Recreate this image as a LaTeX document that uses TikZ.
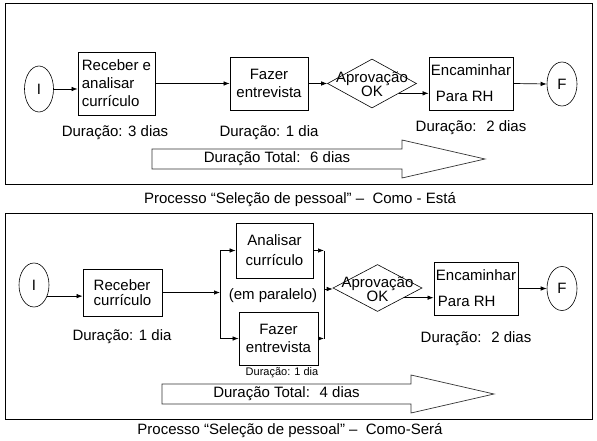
\documentclass[tikz,border=0pt]{standalone}
\usepackage{fontspec}
\setmainfont{Liberation Sans}
\usetikzlibrary{calc, arrows.meta, shapes.geometric}
\newcommand{\drawTotalArrow}[6]{
  \draw[bigarrow] (#2,{#5-10}) -- (#3,{#5-10}) -- (#3,{#5-19}) -- (#4,#5) -- (#3,{#5+19}) -- (#3,{#5+10}) -- (#2,{#5+10}) -- cycle;
  \node[durtxt] (#1) at ({(#2+#3)/2},#5) {#6};
}
\newcommand{\flatText}[1]{\raisebox{-6.5pt}[0pt][0pt]{\makebox[0pt]{\begin{tabular}[c]{@{}c@{}}#1\end{tabular}}}}

\begin{document}
\begin{tikzpicture}[x=1pt, y=-1pt, font=\fontsize{15}{18}\selectfont,
  box/.style={draw, rectangle, line width=0.8pt, inner sep=2pt, align=center},
  term/.style={draw, ellipse, line width=0.6pt, minimum width=30pt, minimum height=44pt, inner sep=0pt},
  decis/.style={draw, diamond, line width=0.6pt, inner sep=0pt, minimum width=89pt},
  flow/.style={-{Latex[length=6pt,width=4.5pt]}, line width=0.7pt},
  durtxt/.style={inner sep=0pt},
  bigarrow/.style={draw=black!80, line width=0.7pt}]
  \useasboundingbox (0,0) rectangle (597,441);

  % Como - Esta
  \draw[line width=0.8pt] (5,3) rectangle (592,184);
  \node[term, minimum width=29pt, minimum height=46pt] (I1) at (39,89) {I};
  \node[box, minimum width=77pt, minimum height=63pt, align=left] (rec1) at (116.5,83.5) {Receber e\\analisar\\currículo};
  \node[box, minimum width=78pt, minimum height=53pt] (ent1) at (269,83.5) {Fazer\\entrevista};
  \node[decis, minimum height=49pt] (apr1) at (372,83.5) {\flatText{Aprovação\\[-4pt]OK}};
  \node[box, minimum width=82pt, minimum height=53pt, align=left] (enc1) at (471,83.5) {Encaminhar\\[8pt]\hspace*{5pt}Para RH};
  \node[term] (F1) at (562,84) {F};

  \node[durtxt] (dur1) at (115,133) {Duração: 3 dias};
  \node[durtxt] (dur2) at (269,133) {Duração: 1 dia};
  \node[durtxt] (dur3) at (471,128) {Duração:~ 2 dias};

  \draw[flow] (I1.east) -- (I1.east -| rec1.west);
  \draw[flow] (rec1.east) -- (ent1.west);
  \draw[flow] (ent1.east) -- (apr1.west);
  \draw[flow] (apr1.-20) -- (apr1.-20 -| enc1.west);
  \draw[flow] (enc1.east) -- (F1.west);

  \drawTotalArrow{tot1}{152}{402}{485}{159}{Duração Total:~ 6 dias}
  \node[durtxt] (cap1) at (300,200) {Processo “Seleção de pessoal” –~ Como - Está};

  % Como - Sera
  \draw[line width=0.8pt] (5,213) rectangle (592,419);
  \node[term] (I2) at (34,285) {I};
  \node[box, minimum width=79pt, minimum height=47pt, align=left] (rec2) at (122.5,292.5) {Receber\\[-3pt]currículo};
  \node[box, minimum width=77pt, minimum height=55pt] (ana) at (274.5,250.5) {Analisar\\[2pt]currículo};
  \node[box, minimum width=79pt, minimum height=53pt] (ent2) at (278.5,338.5) {Fazer\\entrevista};
  \node[durtxt] (par) at (273,296) {(em paralelo)};
  \node[decis, minimum height=47pt] (apr2) at (377.5,288) {\flatText{Aprovação\\[-4pt]OK}};
  \node[box, minimum width=82pt, minimum height=53pt, align=left] (enc2) at (476,288.5) {Encaminhar\\[8pt]\hspace*{2pt}Para RH};
  \node[term] (F2) at (562,288.5) {F};

  \node[durtxt] (dur4) at (122,337) {Duração: 1 dia};
  \node[durtxt, font=\fontsize{11}{13}\selectfont] (dur5) at (282,373) {Duração: 1 dia};
  \node[durtxt] (dur6) at (476,339) {Duração:~ 2 dias};

  \coordinate (split) at (220,292.5);
  \coordinate (merge) at (324,289);
  \draw[flow] (I2.-40) -- (I2.-40 -| rec2.west);
  \draw[flow] (rec2.east) -- (split);
  \draw[line width=0.7pt] (split |- ana.west) -- (split |- ent2.west);
  \draw[flow] (split |- ana.west) -- (ana.west);
  \draw[flow] (split |- ent2.west) -- (ent2.west);
  \draw[flow] (ana.east) -- (ana.east -| merge);
  \draw[flow] (ent2.east) -- (ent2.east -| merge);
  \draw[line width=0.7pt] (merge |- ana.east) -- (merge |- ent2.east);
  \draw[flow] (merge) -- (merge -| apr2.west);
  \draw[flow] (apr2.-20) -- (apr2.-20 -| enc2.west);
  \draw[flow] (enc2.east) -- (F2.west);

  \drawTotalArrow{tot2}{162}{411}{494}{394}{Duração Total:~ 4 dias}
  \node[durtxt] (cap2) at (290,431) {Processo “Seleção de pessoal” –~ Como-Será};
\end{tikzpicture}
\end{document}
